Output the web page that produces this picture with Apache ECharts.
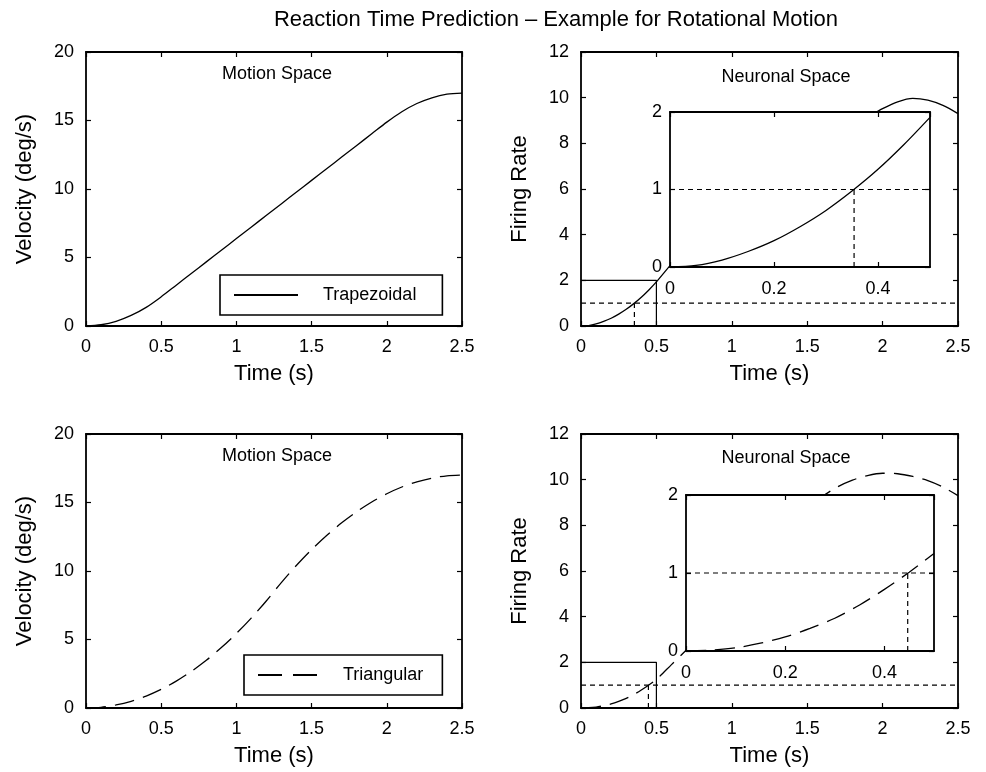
<!DOCTYPE html>
<html>
<head>
<meta charset="utf-8">
<script src="https://cdn.jsdelivr.net/npm/echarts@6/dist/echarts.min.js"></script>
<style>
html, body { margin: 0; padding: 0; background: #fff; }
#main { width: 986px; height: 772px; }
</style>
</head>
<body>
<div id="main"></div>
<script>
// motion profiles (velocity, deg/s)
var tMain = [0, 0.1, 0.2, 0.3, 0.4, 0.5, 0.6, 0.7, 0.8, 0.9, 1.0, 1.1, 1.2, 1.3, 1.4, 1.5, 1.6, 1.7, 1.8, 1.9, 2.0, 2.1, 2.2, 2.3, 2.4, 2.5];
var trapVel = [0, 0.09, 0.34, 0.77, 1.36, 2.13, 2.98, 3.83, 4.68, 5.53, 6.38, 7.23, 8.08, 8.93, 9.78, 10.63, 11.48, 12.33, 13.18, 14.03, 14.88, 15.64, 16.24, 16.66, 16.92, 17.0];
var triVel = [0, 0.05, 0.22, 0.49, 0.87, 1.36, 1.96, 2.67, 3.48, 4.41, 5.44, 6.58, 7.83, 9.17, 10.42, 11.56, 12.59, 13.52, 14.33, 15.04, 15.64, 16.13, 16.51, 16.78, 16.95, 17.0];

// neuronal space (firing rate)
var tFire = [0, 0.05, 0.1, 0.15, 0.2, 0.25, 0.3, 0.35, 0.4, 0.45, 0.5, 0.6, 0.7, 0.8, 1.0, 1.2, 1.4, 1.5, 1.6, 1.7, 1.8, 1.9, 2.0, 2.1, 2.2, 2.3, 2.4, 2.5];
var trapFire = [0, 0.02, 0.09, 0.2, 0.34, 0.52, 0.73, 0.98, 1.26, 1.58, 1.93, 2.72, 3.45, 4.1, 5.25, 6.3, 7.2, 7.65, 8.05, 8.45, 8.8, 9.15, 9.52, 9.82, 9.97, 9.89, 9.66, 9.3];
var triFire = [0, 0.01, 0.04, 0.1, 0.18, 0.29, 0.42, 0.59, 0.79, 1.01, 1.25, 1.9, 2.55, 3.25, 4.75, 6.2, 7.8, 8.55, 9.25, 9.68, 9.98, 10.18, 10.28, 10.26, 10.14, 9.96, 9.68, 9.3];

var threshold = 1;
var trapCross = 0.354;
var triCross = 0.447;
var boxTime = 0.5, boxRate = 2;

var xTicks = [0, 2.5, 0.5];
var velTicks = [0, 20, 5];
var rateTicks = [0, 12, 2];
var zoomXTicks = [0, 0.5, 0.2];
var zoomYTicks = [0, 2, 1];

var font = 'Liberation Sans, Arial, Helvetica, sans-serif';
var myChart = echarts.init(document.getElementById('main'));

function pairs(xs, ys, n) {
    var out = [];
    for (var i = 0; i < (n || xs.length); i++) out.push([xs[i], ys[i]]);
    return out;
}

function axis(gridIndex, pos, ticks, labels, extra) {
    var a = {
        type: 'value',
        gridIndex: gridIndex,
        position: pos,
        min: ticks[0],
        max: ticks[1],
        interval: ticks[2],
        axisLine: { show: true, onZero: false, lineStyle: { color: '#000', width: 1.8 } },
        axisTick: { show: true, inside: true, length: 5, lineStyle: { color: '#000', width: 1.2 } },
        axisLabel: { show: labels, color: '#000', fontSize: 18, fontFamily: font, margin: 12 },
        splitLine: { show: false },
        nameTextStyle: { color: '#000', fontSize: 22, fontFamily: font }
    };
    return Object.assign(a, extra || {});
}

var grids = [
    { left: 86, top: 52, width: 376, height: 274 },
    { left: 581, top: 52, width: 377, height: 274 },
    { left: 86, top: 434, width: 376, height: 274 },
    { left: 581, top: 434, width: 377, height: 274 },
    { left: 670, top: 112, width: 260, height: 155, show: true, backgroundColor: '#fff', borderWidth: 0, z: 5 },
    { left: 686, top: 495, width: 248, height: 156, show: true, backgroundColor: '#fff', borderWidth: 0, z: 5 }
];

var xAxes = [], yAxes = [];
for (var g = 0; g < 6; g++) {
    var inset = g >= 4;
    var xt = inset ? zoomXTicks : xTicks;
    var yt = inset ? zoomYTicks : (g % 2 === 0 ? velTicks : rateTicks);
    var zz = inset ? { z: 6 } : {};
    var xb = axis(g, 'bottom', xt, true, Object.assign({}, zz));
    var yl = axis(g, 'left', yt, true, Object.assign({}, zz));
    if (inset) {
        xb.axisLabel.margin = 13;
        xb.axisLabel.showMaxLabel = false;
        yl.axisLabel.margin = 8;
    } else {
        xb.name = 'Time (s)';
        xb.nameLocation = 'middle';
        xb.nameGap = 37;
        yl.name = g % 2 === 0 ? 'Velocity (deg/s)' : 'Firing Rate';
        yl.nameLocation = 'middle';
        yl.nameGap = 50;
    }
    xAxes.push(xb, axis(g, 'top', xt, false, Object.assign({}, zz)));
    yAxes.push(yl, axis(g, 'right', yt, false, Object.assign({}, zz)));
}

function curve(name, g, data, dashed, z) {
    return {
        name: name, type: 'line', xAxisIndex: 2 * g, yAxisIndex: 2 * g,
        data: data, symbol: 'none', smooth: 0.3, silent: true, z: z || 2,
        lineStyle: { color: '#000', width: 1.3, type: dashed ? [20, 9] : 'solid' },
        itemStyle: { color: '#000' }
    };
}
function guide(g, data, dashed, z) {
    return {
        type: 'line', xAxisIndex: 2 * g, yAxisIndex: 2 * g,
        data: data, symbol: 'none', silent: true, z: z || 2,
        lineStyle: { color: '#000', width: 1.2, type: dashed ? [5, 4] : 'solid' }
    };
}

var series = [
    curve('Trapezoidal', 0, pairs(tMain, trapVel), false),
    curve('Triangular', 2, pairs(tMain, triVel), true),

    curve('trap rate', 1, pairs(tFire, trapFire), false),
    guide(1, [[0, boxRate], [boxTime, boxRate], [boxTime, 0]], false),
    guide(1, [[0, threshold], [xTicks[1], threshold]], true),
    guide(1, [[trapCross, 0], [trapCross, threshold]], true),
    curve('trap rate zoom', 4, pairs(tFire, trapFire, 11), false, 7),
    guide(4, [[0, threshold], [zoomXTicks[1], threshold]], true, 7),
    guide(4, [[trapCross, 0], [trapCross, threshold]], true, 7),

    curve('tri rate', 3, pairs(tFire, triFire), true),
    guide(3, [[0, boxRate], [boxTime, boxRate], [boxTime, 0]], false),
    guide(3, [[0, threshold], [xTicks[1], threshold]], true),
    guide(3, [[triCross, 0], [triCross, threshold]], true),
    curve('tri rate zoom', 5, pairs(tFire, triFire, 11), true, 7),
    guide(5, [[0, threshold], [zoomXTicks[1], threshold]], true, 7),
    guide(5, [[triCross, 0], [triCross, threshold]], true, 7)
];

function label(x, y, text, size) {
    return {
        type: 'text', x: x, y: y, silent: true, z: 10,
        style: { text: text, fill: '#000', font: size + 'px ' + font, align: 'center', verticalAlign: 'middle' }
    };
}

var legendBase = {
    orient: 'horizontal', itemHeight: 14, selectedMode: false,
    borderColor: '#000', borderWidth: 1.6, borderRadius: 0,
    itemStyle: { color: 'rgba(0,0,0,0)', borderColor: 'rgba(0,0,0,0)', borderWidth: 0 },
    textStyle: { color: '#000', fontSize: 18, fontFamily: font, padding: [0, 0, 0, 20] }
};

var option = {
    animation: false,
    backgroundColor: '#fff',
    grid: grids,
    xAxis: xAxes,
    yAxis: yAxes,
    legend: [
        Object.assign({}, legendBase, { data: ['Trapezoidal'], left: 220, top: 275, itemWidth: 64, padding: [11, 26, 11, 13] }),
        Object.assign({}, legendBase, {
            data: ['Triangular'], left: 244, top: 655, itemWidth: 60, padding: [11, 19, 11, 13],
            lineStyle: { type: [24, 11] }
        })
    ],
    graphic: [
        label(556, 20, 'Reaction Time Prediction \u2013 Example for Rotational Motion', 22),
        label(277, 74, 'Motion Space', 18),
        label(786, 77, 'Neuronal Space', 18),
        label(277, 456, 'Motion Space', 18),
        label(786, 458, 'Neuronal Space', 18)
    ],
    series: series
};

myChart.setOption(option);
window.addEventListener('resize', function () {
    myChart.resize();
});
</script>
</body>
</html>
